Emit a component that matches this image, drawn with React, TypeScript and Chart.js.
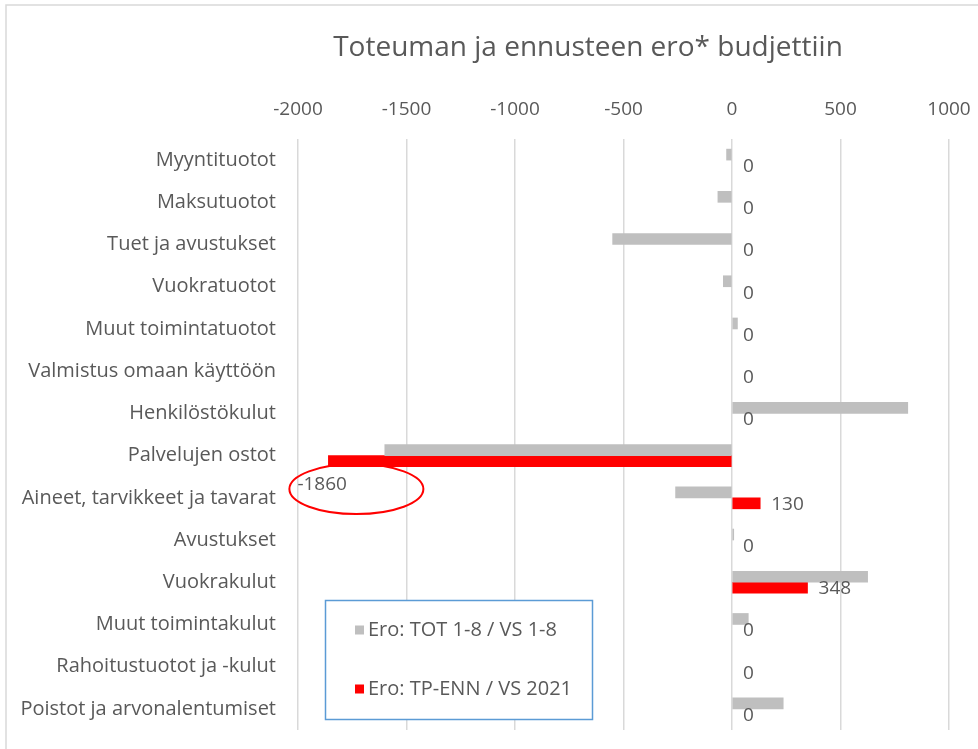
import React, { useEffect, useRef } from 'react';
import { Chart, registerables } from 'chart.js';

Chart.register(...registerables);

const chartTitle = 'Toteuman ja ennusteen ero* budjettiin';
const categories = [
  'Myyntituotot',
  'Maksutuotot',
  'Tuet ja avustukset',
  'Vuokratuotot',
  'Muut toimintatuotot',
  'Valmistus omaan käyttöön',
  'Henkilöstökulut',
  'Palvelujen ostot',
  'Aineet, tarvikkeet ja tavarat',
  'Avustukset',
  'Vuokrakulut',
  'Muut toimintakulut',
  'Rahoitustuotot ja -kulut',
  'Poistot ja arvonalentumiset',
];
const seriesNames = ['Ero: TOT 1-8 / VS 1-8', 'Ero: TP-ENN / VS 2021'];
const totValues = [-25, -65, -550, -40, 25, 0, 810, -1600, -260, 8, 625, 75, 0, 236];
const ennValues = [0, 0, 0, 0, 0, 0, 0, -1860, 130, 0, 348, 0, 0, 0];
const xMin = -2000;
const xMax = 1000;
const xStep = 500;

const FONT = "'Open Sans', sans-serif";
const TEXT = '#595959';
const GREY = '#BFBFBF';
const RED = '#FF0000';

const decorPlugin = {
  id: 'decor',
  beforeDraw(chart: any) {
    const ctx = chart.ctx;
    ctx.save();
    ctx.fillStyle = '#ffffff';
    ctx.fillRect(0, 0, chart.width, chart.height);
    ctx.strokeStyle = '#d9d9d9';
    ctx.lineWidth = 1.5;
    ctx.beginPath();
    ctx.moveTo(6, chart.height + 2);
    ctx.lineTo(6, 5);
    ctx.lineTo(chart.width + 2, 5);
    ctx.stroke();
    ctx.fillStyle = TEXT;
    ctx.font = `28px ${FONT}`;
    ctx.textAlign = 'center';
    ctx.textBaseline = 'middle';
    ctx.fillText(chartTitle, 588, 48);
    ctx.restore();
  },
  afterDatasetsDraw(chart: any) {
    const ctx = chart.ctx;
    const meta = chart.getDatasetMeta(1);
    ctx.save();
    ctx.fillStyle = TEXT;
    ctx.font = `19px ${FONT}`;
    ctx.textBaseline = 'middle';
    ctx.textAlign = 'left';
    meta.data.forEach((bar: any, i: number) => {
      const v = ennValues[i];
      const p = bar.getProps(['x', 'y', 'base'], true);
      if (v >= 0) {
        ctx.fillText(String(v), Math.max(p.x, p.base) + 11, p.y + 1);
      } else {
        const lx = p.x - 31;
        const ly = p.y + 23;
        ctx.fillText(String(v), lx, ly);
        ctx.strokeStyle = RED;
        ctx.lineWidth = 2;
        ctx.beginPath();
        ctx.ellipse(lx + 59, ly + 5, 67, 25, 0, 0, Math.PI * 2);
        ctx.stroke();
      }
    });
    ctx.restore();
  },
  afterDraw(chart: any) {
    const ctx = chart.ctx;
    ctx.save();
    const bx = 325.5, by = 600.5, bw = 267, bh = 119;
    ctx.fillStyle = '#ffffff';
    ctx.fillRect(bx, by, bw, bh);
    ctx.strokeStyle = '#5B9BD5';
    ctx.lineWidth = 1.5;
    ctx.strokeRect(bx, by, bw, bh);
    const colors = [GREY, RED];
    const ys = [630, 689];
    ctx.font = `20px ${FONT}`;
    ctx.textBaseline = 'middle';
    ctx.textAlign = 'left';
    seriesNames.forEach((name, i) => {
      ctx.fillStyle = colors[i];
      ctx.fillRect(355, ys[i] - 4.5, 9, 9);
      ctx.fillStyle = TEXT;
      ctx.fillText(name, 368, ys[i]);
    });
    ctx.restore();
  },
};

export default function App() {
  const ref = useRef<HTMLCanvasElement>(null);
  useEffect(() => {
    document.body.style.margin = '0';
    const chart = new Chart(ref.current as HTMLCanvasElement, {
      type: 'bar',
      data: {
        labels: categories,
        datasets: [
          {
            label: seriesNames[0],
            data: totValues,
            backgroundColor: totValues.map((v) => (v === 0 ? 'rgba(0,0,0,0)' : GREY)),
            barThickness: 11,
          },
          {
            label: seriesNames[1],
            data: ennValues,
            backgroundColor: ennValues.map((v) => (v === 0 ? 'rgba(0,0,0,0)' : RED)),
            barThickness: 11,
          },
        ],
      },
      options: {
        indexAxis: 'y',
        responsive: false,
        animation: false,
        layout: { padding: { left: 0, top: 0, right: 29, bottom: 19 } },
        plugins: {
          legend: { display: false },
          title: { display: false },
          tooltip: { enabled: false },
        },
        scales: {
          x: {
            position: 'top',
            min: xMin,
            max: xMax,
            ticks: {
              stepSize: xStep,
              color: TEXT,
              font: { family: FONT, size: 19 },
              padding: 18,
              callback: (v: any) => String(v),
            },
            grid: { color: '#d9d9d9', lineWidth: 1.5, drawTicks: false },
            border: { display: false },
            afterFit: (s: any) => {
              s.height = 139;
              s.paddingLeft = 0;
              s.paddingRight = 0;
            },
          },
          y: {
            ticks: { color: TEXT, font: { family: FONT, size: 20 }, padding: 22 },
            grid: { display: false, drawTicks: false },
            border: { display: false },
            afterFit: (s: any) => {
              s.width = 298;
              s.paddingTop = 0;
              s.paddingBottom = 0;
            },
          },
        },
      },
      plugins: [decorPlugin],
    } as any);
    return () => chart.destroy();
  }, []);
  return <canvas ref={ref} width={978} height={749} style={{ display: 'block' }} />;
}
